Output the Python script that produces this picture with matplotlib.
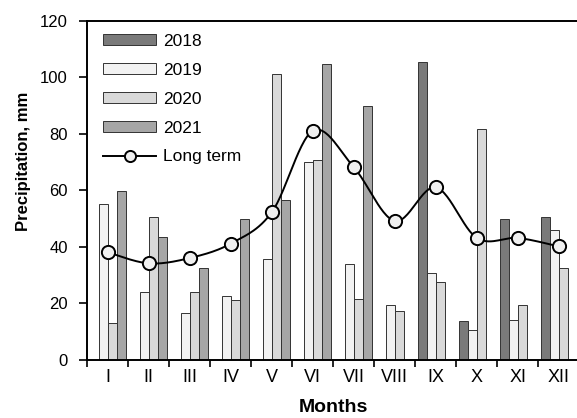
import matplotlib.pyplot as plt
import numpy as np

plt.rcParams['font.family'] = ['Liberation Sans', 'DejaVu Sans']

# Data
meses = ['I', 'II', 'III', 'IV', 'V', 'VI', 'VII', 'VIII', 'IX', 'X', 'XI', 'XII']
nan = np.nan
p2018 = [nan, nan, nan, nan, nan, nan, nan, nan, 105.4, 13.9, 50.0, 50.5]
p2019 = [55.2, 24.0, 16.5, 22.5, 35.8, 70.0, 33.9, 19.4, 30.7, 10.5, 14.0, 45.9]
p2020 = [13.0, 50.5, 24.1, 21.1, 101.1, 70.7, 21.6, 17.3, 27.5, 81.8, 19.6, 32.7]
p2021 = [59.8, 43.4, 32.7, 50.0, 56.5, 104.8, 89.9, nan, nan, nan, nan, nan]
largo = [38.1, 34.2, 36.1, 41.2, 52.3, 81.1, 68.2, 49.2, 61.1, 43.2, 43.2, 40.2]


# Curva suave tipo Excel (Catmull-Rom) que pasa por los puntos
def Suave(x, y, n=30):
    x = np.asarray(x, float)
    y = np.asarray(y, float)
    px = np.concatenate([[x[0]], x, [x[-1]]])
    py = np.concatenate([[y[0]], y, [y[-1]]])
    xs, ys = [], []
    t = np.linspace(0, 1, n)
    for i in range(1, len(px) - 2):
        p0, p1, p2, p3 = [np.array([px[j], py[j]]) for j in range(i - 1, i + 3)]
        c1 = p1 + (p2 - p0) / 6.0
        c2 = p2 - (p3 - p1) / 6.0
        b = ((1 - t) ** 3)[:, None] * p1 + (3 * (1 - t) ** 2 * t)[:, None] * c1 \
            + (3 * (1 - t) * t ** 2)[:, None] * c2 + (t ** 3)[:, None] * p2
        xs.extend(b[:, 0])
        ys.extend(b[:, 1])
    return xs, ys


fig = plt.figure(figsize=(5.77, 4.18), dpi=100)
ax = fig.add_axes([0.1513, 0.1388, 0.8527, 0.811])

x = np.arange(len(meses))
w = 0.2225
series = [(p2018, '2018', '#7a7a7a'),
          (p2019, '2019', '#f2f2f2'),
          (p2020, '2020', '#d9d9d9'),
          (p2021, '2021', '#a6a6a6')]
handles = []
for k, (vals, lab, col) in enumerate(series):
    b = ax.bar(x + (k - 1.5) * w + 0.01, vals, width=w, color=col,
               edgecolor='#333333', linewidth=0.7, label=lab, zorder=2)
    handles.append(b)

xs, ys = Suave(x, largo)
ax.plot(xs, ys, color='black', lw=1.4, zorder=3)
ax.plot(x, largo, linestyle='none', marker='o', ms=9.5, mfc='#f0f0f0',
        mec='black', mew=1.4, zorder=4)
lh, = ax.plot([], [], color='black', lw=1.4, marker='o', ms=8, mfc='#f0f0f0',
              mec='black', mew=1.4, label='Long term')
handles.append(lh)

ax.set_xlim(-0.5, 11.5)
ax.set_ylim(0, 120)
ax.set_yticks(np.arange(0, 121, 20))
ax.set_xticks(np.arange(-0.5, 12, 1))
ax.set_xticklabels([])
ax.set_xticks(x, minor=True)
ax.set_xticklabels(meses, minor=True)
ax.tick_params(axis='x', which='major', direction='out', length=5, width=1.2)
ax.tick_params(axis='x', which='minor', length=0, pad=6.5, labelsize=13)
ax.tick_params(axis='y', direction='out', length=6, width=1.2, pad=8, labelsize=12)

for s in ['left', 'bottom', 'top']:
    ax.spines[s].set_linewidth(1.4)
ax.spines['right'].set_visible(False)

ax.legend(handles=handles, loc='upper left', bbox_to_anchor=(0.032, 0.962),
          borderaxespad=0, borderpad=0, frameon=False, fontsize=12.5,
          handlelength=3.05, handleheight=0.57, handletextpad=0.4,
          labelspacing=0.8)

fig.text(24 / 577, 1 - 161 / 418, 'Precipitation, mm', rotation=90,
         ha='center', va='center', fontsize=12, fontweight='bold')
fig.text(333 / 577, 1 - 407.5 / 418, 'Months', ha='center', va='center',
         fontsize=14, fontweight='bold')

fig.savefig('out.png', dpi=100)
